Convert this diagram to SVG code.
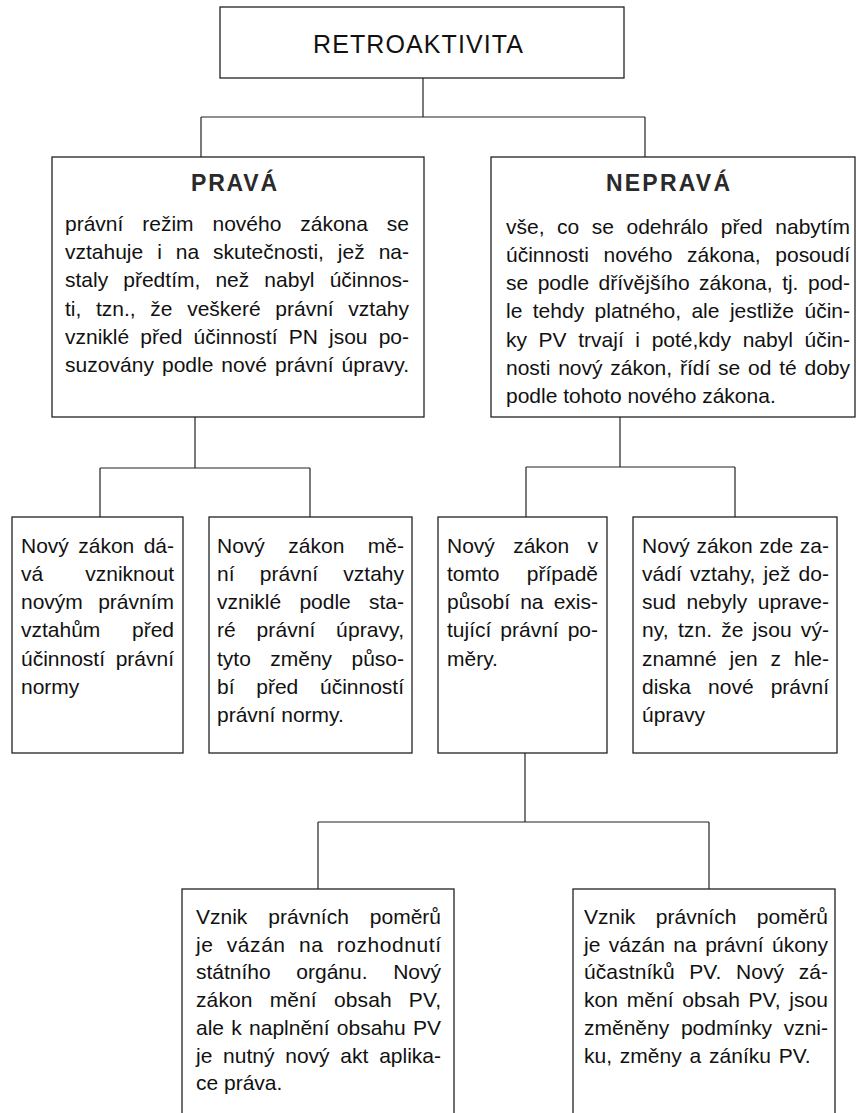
<svg xmlns="http://www.w3.org/2000/svg" width="856" height="1113" viewBox="0 0 856 1113">
<style>
  .bg { fill: #ffffff; }
  .box { fill: #ffffff; stroke: #222222; stroke-width: 1.3; }
  .conn { fill: none; stroke: #222222; stroke-width: 1.2; }
  text { font-family: "Liberation Sans", Arial, sans-serif; fill: #111111; }
  .t { font-size: 21px; }
  .title { font-size: 23px; font-weight: bold; fill: #2a2a2a; text-anchor: middle; }
  .root { font-size: 25px; text-anchor: middle; }
</style>
<rect class="bg" x="0" y="0" width="856" height="1113"/>

<g id="connectors">
  <path class="conn" d="M423 78 V117 M201 117 H645 M201 117 V157 M645 117 V157"/>
  <path class="conn" d="M195 417 V468 M100 468 H310 M100 468 V517 M310 468 V517"/>
  <path class="conn" d="M620 417 V467 M526 467 H735 M526 467 V517 M735 467 V517"/>
  <path class="conn" d="M525 753 V822 M318 822 H709 M318 822 V889 M709 822 V889"/>
</g>

<g id="retroaktivita">
  <rect class="box" x="220" y="7" width="404" height="71"/>
  <text class="root" x="418" y="53" textLength="210" lengthAdjust="spacing">RETROAKTIVITA</text>
</g>

<g id="prava">
  <rect class="box" x="52" y="157" width="372" height="260"/>
  <text class="title" x="234" y="191" textLength="86" lengthAdjust="spacing">PRAVÁ</text>
  <text class="t" x="65" y="231" style="word-spacing:13.05px" textLength="344" lengthAdjust="spacing">právní režim nového zákona se</text>
  <text class="t" x="65" y="259" style="word-spacing:8.1px" textLength="344" lengthAdjust="spacing">vztahuje i na skutečnosti, jež na-</text>
  <text class="t" x="65" y="287" style="word-spacing:9.26px" textLength="344" lengthAdjust="spacing">staly předtím, než nabyl účinnos-</text>
  <text class="t" x="65" y="316" style="word-spacing:8.81px" textLength="344" lengthAdjust="spacing">ti, tzn., že veškeré právní vztahy</text>
  <text class="t" x="65" y="344" style="word-spacing:5.31px" textLength="344" lengthAdjust="spacing">vzniklé před účinností PN jsou po-</text>
  <text class="t" x="65" y="372" style="word-spacing:1.96px" textLength="344" lengthAdjust="spacing">suzovány podle nové právní úpravy.</text>
</g>

<g id="neprava">
  <rect class="box" x="491" y="157" width="364" height="260"/>
  <text class="title" x="668" y="191" textLength="124" lengthAdjust="spacing">NEPRAVÁ</text>
  <text class="t" x="506" y="234" style="word-spacing:6.7px" textLength="344" lengthAdjust="spacing">vše, co se odehrálo před nabytím</text>
  <text class="t" x="506" y="262" style="word-spacing:8.83px" textLength="344" lengthAdjust="spacing">účinnosti nového zákona, posoudí</text>
  <text class="t" x="506" y="290" style="word-spacing:3.67px" textLength="344" lengthAdjust="spacing">se podle dřívějšího zákona, tj. pod-</text>
  <text class="t" x="506" y="318" style="word-spacing:4.6px" textLength="344" lengthAdjust="spacing">le tehdy platného, ale jestliže účin-</text>
  <text class="t" x="506" y="347" style="word-spacing:5.79px" textLength="344" lengthAdjust="spacing">ky PV trvají i poté,kdy nabyl účin-</text>
  <text class="t" x="506" y="375" style="word-spacing:1.95px" textLength="344" lengthAdjust="spacing">nosti nový zákon, řídí se od té doby</text>
  <text class="t" x="506" y="403">podle tohoto nového zákona.</text>
</g>

<g id="pravni-vznik">
  <rect class="box" x="12" y="517" width="171" height="236"/>
  <text class="t" x="21" y="553" style="word-spacing:3.55px" textLength="153" lengthAdjust="spacing">Nový zákon dá-</text>
  <text class="t" x="21" y="581" style="word-spacing:36.28px" textLength="153" lengthAdjust="spacing">vá vzniknout</text>
  <text class="t" x="21" y="609" style="word-spacing:9.46px" textLength="153" lengthAdjust="spacing">novým právním</text>
  <text class="t" x="21" y="637" style="word-spacing:25.78px" textLength="153" lengthAdjust="spacing">vztahům před</text>
  <text class="t" x="21" y="666" style="word-spacing:4.76px" textLength="153" lengthAdjust="spacing">účinností právní</text>
  <text class="t" x="21" y="694">normy</text>
</g>

<g id="pravni-zmena">
  <rect class="box" x="209" y="517" width="203" height="236"/>
  <text class="t" x="217" y="553" style="word-spacing:17.65px" textLength="187" lengthAdjust="spacing">Nový zákon mě-</text>
  <text class="t" x="217" y="581" style="word-spacing:19.38px" textLength="187" lengthAdjust="spacing">ní právní vztahy</text>
  <text class="t" x="217" y="609" style="word-spacing:12.39px" textLength="187" lengthAdjust="spacing">vzniklé podle sta-</text>
  <text class="t" x="217" y="637" style="word-spacing:14.72px" textLength="187" lengthAdjust="spacing">ré právní úpravy,</text>
  <text class="t" x="217" y="666" style="word-spacing:13.55px" textLength="187" lengthAdjust="spacing">tyto změny půso-</text>
  <text class="t" x="217" y="694" style="word-spacing:15.88px" textLength="187" lengthAdjust="spacing">bí před účinností</text>
  <text class="t" x="217" y="722">právní normy.</text>
</g>

<g id="neprava-existujici">
  <rect class="box" x="438" y="517" width="169" height="236"/>
  <text class="t" x="447" y="553" style="word-spacing:12.48px" textLength="151" lengthAdjust="spacing">Nový zákon v</text>
  <text class="t" x="447" y="581" style="word-spacing:21.43px" textLength="151" lengthAdjust="spacing">tomto případě</text>
  <text class="t" x="447" y="609" style="word-spacing:4.3px" textLength="151" lengthAdjust="spacing">působí na exis-</text>
  <text class="t" x="447" y="637" style="word-spacing:3.13px" textLength="151" lengthAdjust="spacing">tující právní po-</text>
  <text class="t" x="447" y="666">měry.</text>
</g>

<g id="neprava-nove">
  <rect class="box" x="633" y="517" width="204" height="236"/>
  <text class="t" x="642" y="553" style="word-spacing:0.87px" textLength="187" lengthAdjust="spacing">Nový zákon zde za-</text>
  <text class="t" x="642" y="581" style="word-spacing:2.03px" textLength="187" lengthAdjust="spacing">vádí vztahy, jež do-</text>
  <text class="t" x="642" y="609" style="word-spacing:4.8px" textLength="187" lengthAdjust="spacing">sud nebyly uprave-</text>
  <text class="t" x="642" y="637" style="word-spacing:3.28px" textLength="187" lengthAdjust="spacing">ny, tzn. že jsou vý-</text>
  <text class="t" x="642" y="666" style="word-spacing:7.09px" textLength="187" lengthAdjust="spacing">znamné jen z hle-</text>
  <text class="t" x="642" y="694" style="word-spacing:11.21px" textLength="187" lengthAdjust="spacing">diska nové právní</text>
  <text class="t" x="642" y="722">úpravy</text>
</g>

<g id="vznik-organ">
  <rect class="box" x="182" y="889" width="272" height="240"/>
  <text class="t" x="196" y="924" style="word-spacing:15.13px" textLength="245" lengthAdjust="spacing">Vznik právních poměrů</text>
  <text class="t" x="196" y="952" style="word-spacing:6.96px" textLength="245" lengthAdjust="spacing">je vázán na rozhodnutí</text>
  <text class="t" x="196" y="979" style="word-spacing:19.78px" textLength="245" lengthAdjust="spacing">státního orgánu. Nový</text>
  <text class="t" x="196" y="1007" style="word-spacing:11.24px" textLength="245" lengthAdjust="spacing">zákon mění obsah PV,</text>
  <text class="t" x="196" y="1035" style="word-spacing:1.42px" textLength="245" lengthAdjust="spacing">ale k naplnění obsahu PV</text>
  <text class="t" x="196" y="1063" style="word-spacing:4.93px" textLength="245" lengthAdjust="spacing">je nutný nový akt aplika-</text>
  <text class="t" x="196" y="1090">ce práva.</text>
</g>

<g id="vznik-ukony">
  <rect class="box" x="573" y="889" width="262" height="240"/>
  <text class="t" x="584" y="924" style="word-spacing:14.63px" textLength="244" lengthAdjust="spacing">Vznik právních poměrů</text>
  <text class="t" x="584" y="952" style="word-spacing:2.64px" textLength="244" lengthAdjust="spacing">je vázán na právní úkony</text>
  <text class="t" x="584" y="979" style="word-spacing:8.58px" textLength="244" lengthAdjust="spacing">účastníků PV. Nový zá-</text>
  <text class="t" x="584" y="1007" style="word-spacing:2.64px" textLength="244" lengthAdjust="spacing">kon mění obsah PV, jsou</text>
  <text class="t" x="584" y="1035" style="word-spacing:5.89px" textLength="244" lengthAdjust="spacing">změněny podmínky vzni-</text>
  <text class="t" x="584" y="1063" style="word-spacing:2px">ku, změny a záníku PV.</text>
</g>
</svg>
